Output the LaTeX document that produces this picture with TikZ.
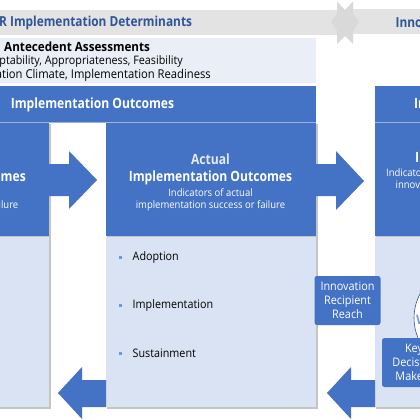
\documentclass[tikz,border=0pt]{standalone}
\usepackage{fontspec}
\setmainfont{Open Sans}
\newfontfamily\hd[FakeStretch=0.86]{Open Sans}
\newfontfamily\bd[FakeStretch=0.92]{Open Sans}
\usetikzlibrary{calc}
\definecolor{bl}{HTML}{4472C4}
\definecolor{lt}{HTML}{DAE3F3}
\definecolor{pale}{HTML}{EAEFF7}
\definecolor{gr}{HTML}{E3E3E3}
\definecolor{star}{HTML}{D9D9D9}
\definecolor{navy}{HTML}{2F5597}
\definecolor{sh}{HTML}{C4C4C4}
\definecolor{rule}{HTML}{9FB3DA}
\tikzset{
 x=1pt,y=-1pt,
 panel/.style={fill=lt,draw=none},
 blue box/.style={fill=bl,draw=none},
 sdw/.style={fill=sh,draw=none},
 wt/.style={text=white,align=center,inner sep=0pt},
 hdtxt/.style={wt,font=\hd\bfseries\fontsize{14.1}{16}\selectfont},
 subtxt/.style={wt,font=\bd\fontsize{10.3}{12}\selectfont},
 bk/.style={text=black,anchor=west,inner sep=0pt,font=\bd\fontsize{11.7}{13}\selectfont},
 nv/.style={text=navy,anchor=west,inner sep=0pt,font=\hd\bfseries\fontsize{13.8}{16}\selectfont},
 blt/.style={fill=bl!75,draw=none,minimum size=3pt,inner sep=0pt},
 arr/.style={fill=bl,draw=none},
 lab/.style={wt,font=\bd\fontsize{11.8}{14}\selectfont}
}
\begin{document}
\begin{tikzpicture}
\useasboundingbox (0,0) rectangle (420,420);
\fill[white] (0,0) rectangle (420,420);
% top band
\fill[gr] (0,10) rectangle (337,35);
\fill[gr] (353,9.5) rectangle (420,34);
\fill[star] (337,1.5) -- (345,10) -- (353,1.5) -- (353,14) -- (359,22) -- (353,31) -- (353,44) -- (345,36) -- (337,44) -- (337,31) -- (331,22) -- (337,13) -- cycle;
\node[nv] (t1) at (-1,23) {R Implementation Determinants};
\node[nv] (t2) at (395.5,22.5) {Innovation};
% antecedent
\fill[pale] (0,38) rectangle (316,83);
\node[bk,font=\bd\bfseries\fontsize{12.7}{14}\selectfont] (a1) at (4,47) {Antecedent Assessments};
\node[bk,anchor=east] (a2) at (183,61.5) {ptability, Appropriateness, Feasibility};
\node[bk,anchor=east,font=\bd\fontsize{12.2}{14}\selectfont] (a3) at (211,75.5) {ation Climate, Implementation Readiness};
% outcomes header
\fill[blue box] (0,86) rectangle (316,122);
\fill[blue box] (375,86) rectangle (420,122);
\fill[rule] (0,122) rectangle (316,123);
\fill[rule] (375,122) rectangle (420,123);
\node[hdtxt] (h1) at (92.5,105) {Implementation Outcomes};
\node[hdtxt,anchor=west] (h2) at (414,105) {Implementation};
% shadows
\fill[sdw] (0,124) rectangle (50.5,408.5);
\fill[sdw] (107,124) rectangle (317.5,408.5);
\fill[sdw] (376,124) rectangle (420,408.5);
% panels
\fill[panel] (0,237) rectangle (49,407);
\fill[panel] (106,237) rectangle (316,407);
\fill[panel] (375,237) rectangle (420,407);
% blue cards
\fill[blue box] (0,123) rectangle (49,236);
\fill[blue box] (106,123) rectangle (316,236);
\fill[blue box] (375,123) rectangle (420,236);
% arrows
\fill[arr] (49,164) -- (69,164) -- (69,151) -- (97,180) -- (69,209) -- (69,196) -- (49,196) -- cycle;
\fill[arr] (316,164) -- (336,164) -- (336,151) -- (364,181) -- (336,210) -- (336,196) -- (316,196) -- cycle;
\fill[arr] (106,380) -- (82,380) -- (82,367) -- (58,393) -- (82,419) -- (82,407) -- (106,407) -- cycle;
\fill[arr] (375,380) -- (351,380) -- (351,367) -- (327,393) -- (351,419) -- (351,407) -- (375,407) -- cycle;
% card text
\node[hdtxt,text=white!85!bl] (c0) at (210.5,159) {Actual};
\node[hdtxt] (c1) at (210.5,178) {Implementation Outcomes};
\node[subtxt] (c2) at (210.5,199.5) {Indicators of actual\\implementation success or failure};
\node[hdtxt,anchor=east] (l1) at (26,178) {mes};
\node[subtxt,anchor=east] (l2) at (18.5,205) {ilure};
\node[hdtxt,anchor=west] (r1) at (415,157) {I};
\node[subtxt,anchor=west] (r2) at (386,173) {Indicators};
\node[subtxt,anchor=west] (r3) at (395.5,185) {innovation};
% bullets
\foreach \n/\y/\t in {p/257/Adoption,q/305/Implementation,s/353.5/Sustainment}{
 \node[blt] (b\n) at (120,\y) {};
 \node[bk] (x\n) at (132.5,\y) {\t};
}
% reach box
\node[fill=bl,rounded corners=2.5pt,minimum width=66pt,minimum height=49pt,lab] (rb) at (347.5,300.5) {Innovation\\Recipient\\Reach};
% circle
\draw[navy,fill=white,line width=0.6pt] (465,318) circle (51);
\node[text=bl!70,anchor=west,inner sep=0pt,font=\bfseries\fontsize{13}{14}\selectfont] (w) at (416,320) {W};
% key box
\fill[bl,rounded corners=2.5pt] (382,338) rectangle (445,387);
\node[lab] (k) at (414,362.5) {Key\\Decision\\Makers};
\end{tikzpicture}
\end{document}
